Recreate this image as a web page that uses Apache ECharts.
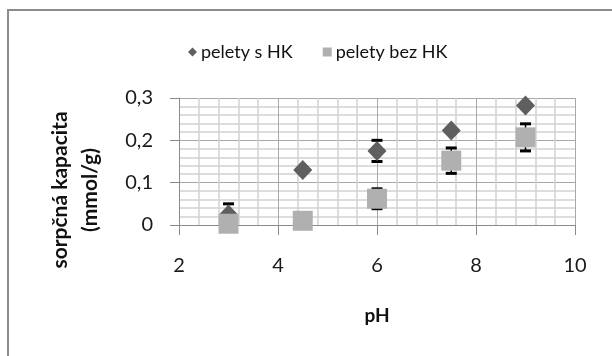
<!DOCTYPE html>
<html>
<head>
<meta charset="utf-8">
<script src="https://cdn.jsdelivr.net/npm/echarts@6/dist/echarts.min.js"></script>
<style>html,body{margin:0;padding:0;background:#fff}#c{width:612px;height:356px}</style>
</head>
<body>
<div id="c"></div>
<script>
const phValues = [3, 4.5, 6, 7.5, 9];
const sHK = [0.025, 0.13, 0.175, 0.223, 0.282];
const sHKErr = [0.025, 0.005, 0.025, 0.005, 0.005];
const bezHK = [0.003, 0.01, 0.062, 0.152, 0.207];
const bezHKErr = [0.01, 0.01, 0.0235, 0.03, 0.032];
const seriesNames = ['pelety s HK', 'pelety bez HK'];
const yTitleLines = ['sorpčná kapacita', '(mmol/g)'];
const xTitle = 'pH';

const FONT = 'Lato';
const chart = echarts.init(document.getElementById('c'), null, {renderer: 'canvas'});

function pts(vals) { return phValues.map((x, i) => [x, vals[i]]); }
function errs(vals, e) { return phValues.map((x, i) => [x, vals[i] - e[i], vals[i] + e[i]]); }

function errRender(params, api) {
  const x = api.value(0), lo = api.value(1), hi = api.value(2);
  const a = api.coord([x, lo]), b = api.coord([x, hi]);
  const cw = 5.5;
  const st = {stroke: '#000', lineWidth: 1.5};
  const cs = {stroke: '#000', lineWidth: 3};
  return {
    type: 'group',
    children: [
      {type: 'line', shape: {x1: a[0], y1: a[1], x2: b[0], y2: b[1]}, style: st},
      {type: 'line', shape: {x1: a[0] - cw, y1: a[1], x2: a[0] + cw, y2: a[1]}, style: cs},
      {type: 'line', shape: {x1: b[0] - cw, y1: b[1], x2: b[0] + cw, y2: b[1]}, style: cs}
    ]
  };
}

chart.setOption({
  backgroundColor: '#fff',
  animation: false,
  textStyle: {fontFamily: FONT},
  grid: {left: 179, right: 37, top: 98, bottom: 131, containLabel: false},
  legend: {
    left: 183, top: 38,
    itemWidth: 9, itemHeight: 9, itemGap: 30,
    textStyle: {fontFamily: FONT, fontSize: 18, color: '#111', padding: [0, 0, 0, -1]},
    data: [
      {name: seriesNames[0], icon: 'diamond', itemStyle: {color: '#5f5f5f', opacity: 1}},
      {name: seriesNames[1], icon: 'rect', itemStyle: {color: '#b0b0b0', opacity: 1}}
    ]
  },
  xAxis: {
    type: 'value', min: 2, max: 10, interval: 2,
    name: xTitle, nameLocation: 'middle', nameGap: 81,
    nameTextStyle: {fontFamily: FONT, fontSize: 19, fontWeight: 'bold', color: '#111'},
    axisLine: {show: true, onZero: false, lineStyle: {color: '#8a8a8a', width: 1}},
    axisTick: {show: true, length: 10, lineStyle: {color: '#8a8a8a'}},
    axisLabel: {fontFamily: FONT, fontSize: 20, color: '#1a1a1a', margin: 31},
    splitLine: {show: true, lineStyle: {color: '#a8a8a8', width: 1}},
    minorTick: {show: false, splitNumber: 5},
    minorSplitLine: {show: true, lineStyle: {color: '#d2d2d2', width: 1.5}}
  },
  yAxis: {
    type: 'value', min: 0, max: 0.3, interval: 0.1,
    axisLine: {show: true, lineStyle: {color: '#8a8a8a', width: 1}},
    axisTick: {show: true, length: 9, lineStyle: {color: '#8a8a8a'}},
    axisLabel: {fontFamily: FONT, fontSize: 20, color: '#1a1a1a', margin: 26,
      formatter: v => String(Math.round(v * 10) / 10).replace('.', ',')},
    splitLine: {show: true, lineStyle: {color: '#a8a8a8', width: 1}},
    minorTick: {show: false, splitNumber: 5},
    minorSplitLine: {show: true, lineStyle: {color: '#d2d2d2', width: 1.5}}
  },
  graphic: [
    {type: 'rect', shape: {x: 8, y: 10, width: 700, height: 400}, style: {fill: 'none', stroke: '#8c8c8c', lineWidth: 2}, z: 100, silent: true},
    {type: 'text', x: 75, y: 190, rotation: Math.PI / 2,
      style: {text: yTitleLines.join('\n'), fontFamily: FONT, fontSize: 21, fontWeight: 'bold', fill: '#111',
        align: 'center', verticalAlign: 'middle', lineHeight: 30}}
  ],
  series: [
    {type: 'custom', name: 'err1', renderItem: errRender, data: errs(sHK, sHKErr), z: 1, clip: false, encode: {x: 0, y: [1, 2]}},
    {type: 'custom', name: 'err2', renderItem: errRender, data: errs(bezHK, bezHKErr), z: 1, clip: false, encode: {x: 0, y: [1, 2]}},
    {type: 'scatter', name: seriesNames[0], data: pts(sHK), symbol: 'diamond', symbolSize: [19, 20],
      itemStyle: {color: '#5f5f5f', opacity: 1}, z: 3, clip: false},
    {type: 'scatter', name: seriesNames[1], data: pts(bezHK), symbol: 'rect', symbolSize: 20,
      itemStyle: {color: '#b0b0b0', opacity: 1}, z: 4, clip: false}
  ]
});
</script>
</body>
</html>
